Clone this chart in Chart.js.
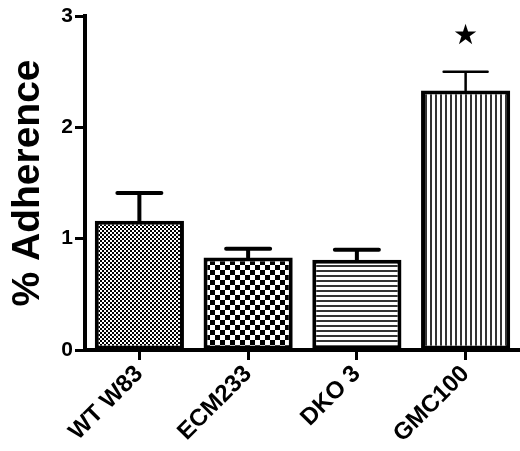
<!DOCTYPE html>
<html>
<head>
<meta charset="utf-8">
<script src="https://cdn.jsdelivr.net/npm/chart.js@4.4.0/dist/chart.umd.min.js"></script>
<style>
  html, body { margin: 0; padding: 0; background: #fff; }
  #wrap { width: 520px; height: 451px; }
</style>
</head>
<body>
<div id="wrap"><canvas id="adherenceChart" width="520" height="451"></canvas></div>
<script>
// data
const strains = ['WT W83', 'ECM233', 'DKO 3', 'GMC100'];
const adherence = [1.16, 0.83, 0.81, 2.33];
const sem = [0.25, 0.08, 0.09, 0.17];
const significant = [false, false, false, true];
const yTicks = [0, 1, 2, 3];

const fills = ['fineCheck', 'bigCheck', 'hLines', 'vLines'];
const errWidths = [4, 4, 4, 2.5];

function makePattern(kind) {
    const c = document.createElement('canvas');
    let w = 4, h = 4;
    if (kind === 'bigCheck') { w = 10; h = 10; }
    if (kind === 'hLines') { w = 5; h = 5; }
    if (kind === 'vLines') { w = 5; h = 5; }
    c.width = w; c.height = h;
    const g = c.getContext('2d');
    g.fillStyle = '#fff';
    g.fillRect(0, 0, w, h);
    g.fillStyle = '#000';
    if (kind === 'fineCheck') {
        g.fillRect(0, 0, 2, 2);
        g.fillRect(2, 2, 2, 2);
    } else if (kind === 'bigCheck') {
        g.fillRect(0, 0, 5, 5);
        g.fillRect(5, 5, 5, 5);
    } else if (kind === 'hLines') {
        g.fillStyle = '#333';
        g.fillRect(0, 0, w, 2);
    } else {
        g.fillStyle = '#333';
        g.fillRect(0, 0, 2, h);
    }
    return g.createPattern(c, 'repeat');
}

// error bars + significance star
const errorBars = {
    id: 'errorBars',
    afterDatasetsDraw(chart) {
        const ctx = chart.ctx;
        const x = chart.scales.x, y = chart.scales.y;
        ctx.save();
        ctx.strokeStyle = '#000';
        ctx.lineCap = 'round';
        adherence.forEach((v, i) => {
            const cx = x.getPixelForValue(i);
            const yTop = y.getPixelForValue(v + sem[i]);
            const yBar = y.getPixelForValue(v);
            ctx.lineWidth = errWidths[i];
            ctx.beginPath();
            ctx.moveTo(cx, yBar);
            ctx.lineTo(cx, yTop);
            ctx.moveTo(cx - 22, yTop);
            ctx.lineTo(cx + 22, yTop);
            ctx.stroke();
            if (significant[i]) {
                ctx.fillStyle = '#000';
                ctx.font = '28px "DejaVu Sans"';
                ctx.textAlign = 'center';
                ctx.textBaseline = 'middle';
                ctx.fillText('\u2605', cx, yTop - 35);
            }
        });
        ctx.restore();
    }
};

const boldFont = size => ({ family: '"Liberation Sans", Arial, sans-serif', size: size, weight: 'bold' });

new Chart(document.getElementById('adherenceChart'), {
    type: 'bar',
    data: {
        labels: strains,
        datasets: [{
            data: adherence,
            backgroundColor: fills.map(makePattern),
            borderColor: '#000',
            borderWidth: 4,
            borderSkipped: false,
            barPercentage: 0.82,
            categoryPercentage: 1
        }]
    },
    options: {
        responsive: false,
        devicePixelRatio: 1,
        animation: false,
        layout: { padding: { top: 16, right: 0, left: 0, bottom: 0 } },
        plugins: {
            legend: { display: false },
            tooltip: { enabled: false }
        },
        scales: {
            x: {
                afterFit: s => { s.height = 101; },
                grid: { offset: false, drawOnChartArea: false, tickLength: 10, tickWidth: 3, tickColor: '#000' },
                border: { color: '#000', width: 4 },
                ticks: { color: '#000', font: boldFont(24), minRotation: 45, maxRotation: 45, padding: 0 }
            },
            y: {
                min: yTicks[0],
                max: yTicks[yTicks.length - 1],
                afterFit: s => { s.width = 85; },
                grid: { drawOnChartArea: false, tickLength: 10, tickWidth: 3, tickColor: '#000' },
                border: { color: '#000', width: 4 },
                ticks: { color: '#000', font: boldFont(21), stepSize: 1, padding: 2 },
                title: { display: true, text: '% Adherence', color: '#000', font: boldFont(39), padding: { top: 5 } }
            }
        }
    },
    plugins: [errorBars]
});
</script>
</body>
</html>
